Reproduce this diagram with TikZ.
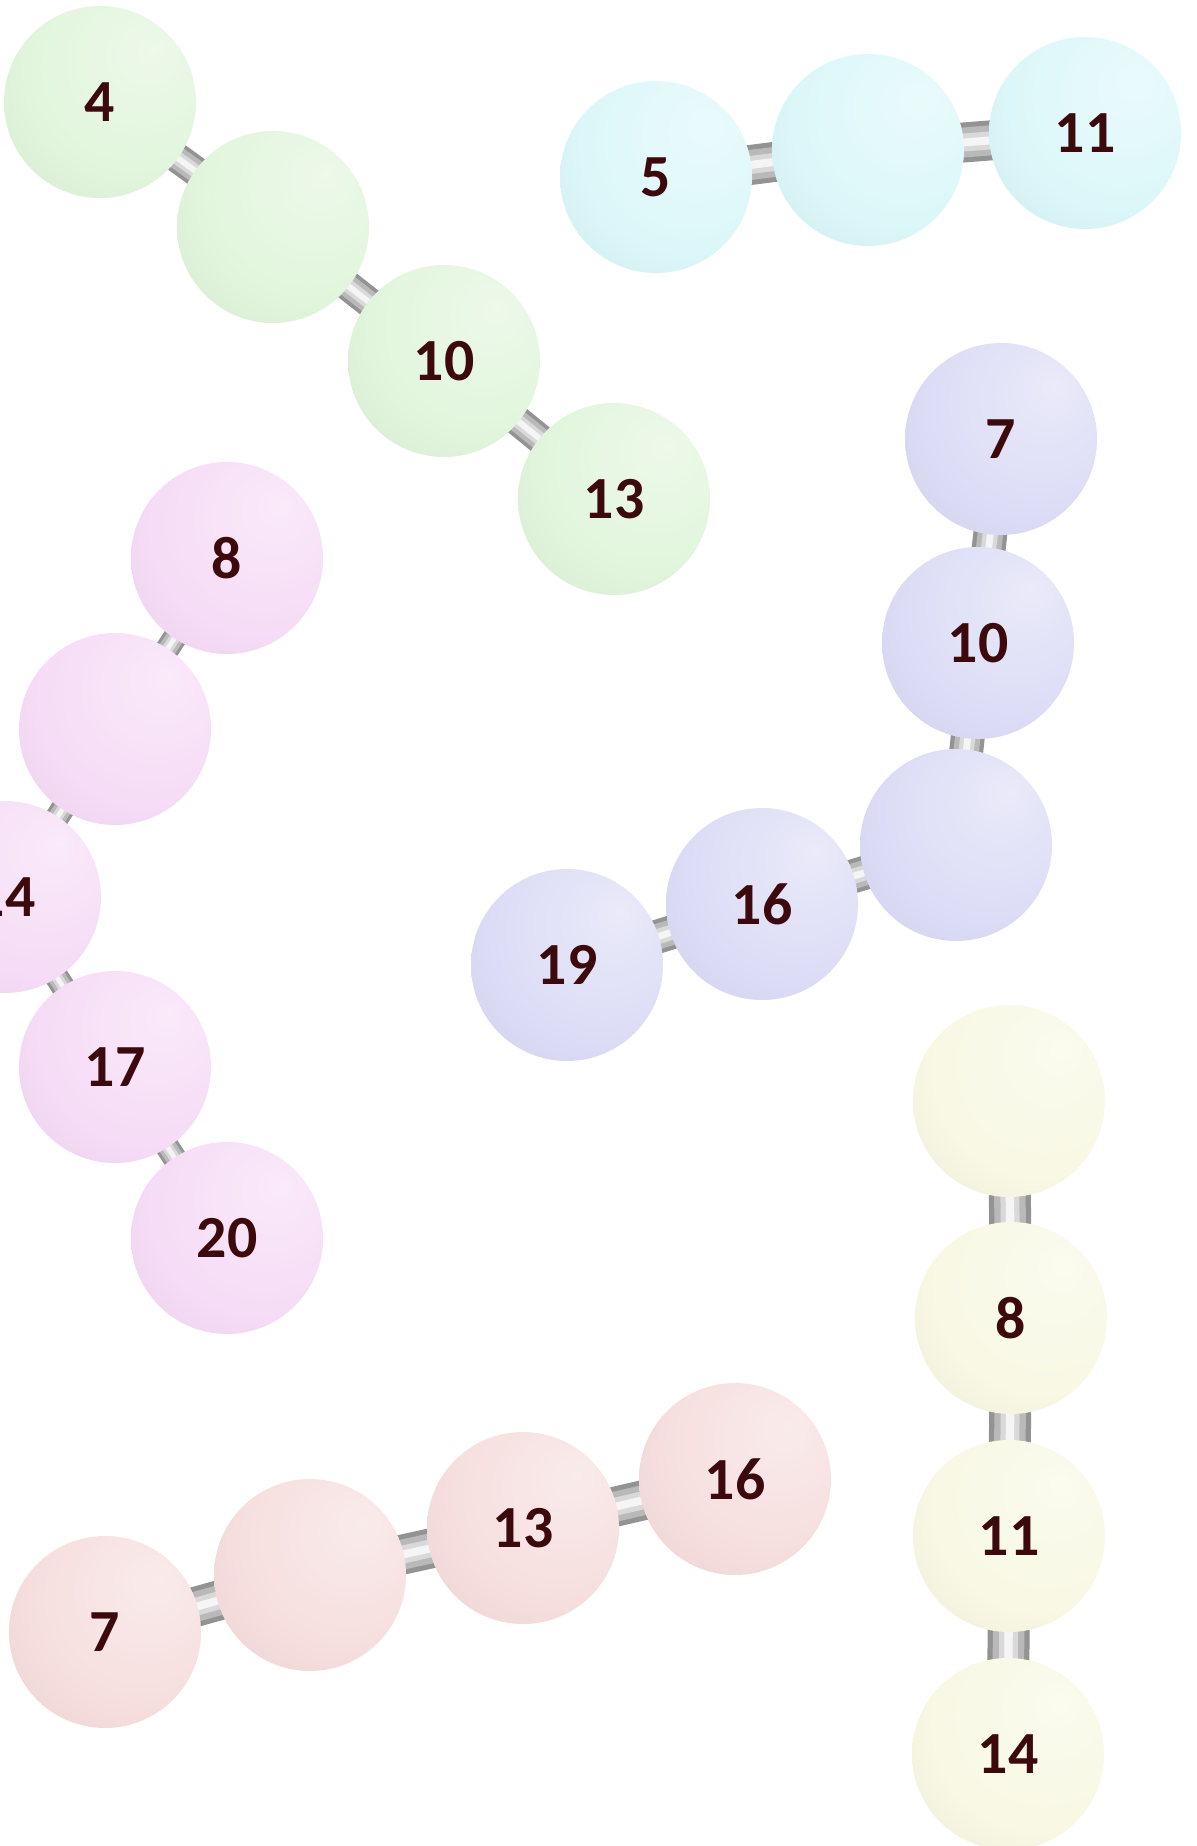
\documentclass[tikz,border=0pt]{standalone}
\usepackage{fontspec}
\setmainfont{Carlito}
\usetikzlibrary{backgrounds}
\definecolor{GreenClr}{RGB}{225,245,220}
\definecolor{CyanClr}{RGB}{220,247,249}
\definecolor{LilacClr}{RGB}{220,220,246}
\definecolor{PinkClr}{RGB}{246,220,246}
\definecolor{RoseClr}{RGB}{246,222,222}
\definecolor{CreamClr}{RGB}{248,248,228}
\definecolor{NumClr}{RGB}{60,10,12}
\pgfdeclareradialshading[beadclr]{beadshade}{\pgfqpoint{14bp}{14bp}}{color(0bp)=(beadclr!60!white); color(28bp)=(beadclr); color(50bp)=(beadclr!93!black); color(70bp)=(beadclr!82!black)}

\begin{document}
\begin{tikzpicture}[x=0.2mm,y=-0.2mm,
  tint/.code={\colorlet{beadclr}{#1}},
  bead/.style={circle,minimum size=38.4mm,inner sep=0pt,shading=beadshade,tint=#1,
    text=NumClr,font=\fontsize{34}{36}\selectfont\bfseries},
  link/.style={draw=gray!85,line width=#1*0.2mm,
    postaction={draw=gray!55,line width=#1*0.15mm},
    postaction={draw=gray!30,line width=#1*0.09mm},
    postaction={draw=gray!8,line width=#1*0.04mm}}]

\path[use as bounding box,clip] (0,0) rectangle (1196,1846);

\node[bead=GreenClr] (g1) at (100,102) {4};
\node[bead=GreenClr] (g2) at (273,227) {};
\node[bead=GreenClr] (g3) at (444,361) {10};
\node[bead=GreenClr] (g4) at (614,499) {13};

\node[bead=CyanClr] (c1) at (656,177) {5};
\node[bead=CyanClr] (c2) at (868,150) {};
\node[bead=CyanClr] (c3) at (1085,133) {11};

\node[bead=LilacClr] (l1) at (1001,439) {7};
\node[bead=LilacClr] (l2) at (978,643) {10};
\node[bead=LilacClr] (l3) at (956,845) {};
\node[bead=LilacClr] (l4) at (762,904) {16};
\node[bead=LilacClr] (l5) at (567,965) {19};

\node[bead=PinkClr] (p1) at (227,558) {8};
\node[bead=PinkClr] (p2) at (115,729) {};
\node[bead=PinkClr] (p3) at (5,897) {14};
\node[bead=PinkClr] (p4) at (115,1067) {17};
\node[bead=PinkClr] (p5) at (227,1238) {20};

\node[bead=RoseClr] (r1) at (105,1632) {7};
\node[bead=RoseClr] (r2) at (310,1575) {};
\node[bead=RoseClr] (r3) at (523,1528) {13};
\node[bead=RoseClr] (r4) at (735,1479) {16};

\node[bead=CreamClr] (y1) at (1009,1101) {};
\node[bead=CreamClr] (y2) at (1011,1318) {8};
\node[bead=CreamClr] (y3) at (1009,1536) {11};
\node[bead=CreamClr] (y4) at (1008,1754) {14};

\begin{scope}[on background layer]
\fill[white] (0,0) rectangle (1196,1846);

\draw[link=30] (g1.center) -- (g2.center);
\draw[link=30] (g2.center) -- (g3.center);
\draw[link=30] (g3.center) -- (g4.center);

\draw[link=40] (c1.center) -- (c2.center);
\draw[link=40] (c2.center) -- (c3.center);

\draw[link=34] (l1.center) -- (l2.center);
\draw[link=34] (l2.center) -- (l3.center);
\draw[link=34] (l3.center) -- (l4.center);
\draw[link=34] (l4.center) -- (l5.center);

\draw[link=24] (p1.center) -- (p2.center);
\draw[link=24] (p2.center) -- (p3.center);
\draw[link=24] (p3.center) -- (p4.center);
\draw[link=24] (p4.center) -- (p5.center);

\draw[link=40] (r1.center) -- (r2.center);
\draw[link=40] (r2.center) -- (r3.center);
\draw[link=40] (r3.center) -- (r4.center);

\draw[link=42] (y1.center) -- (y2.center);
\draw[link=42] (y2.center) -- (y3.center);
\draw[link=42] (y3.center) -- (y4.center);
\end{scope}

\end{tikzpicture}
\end{document}
